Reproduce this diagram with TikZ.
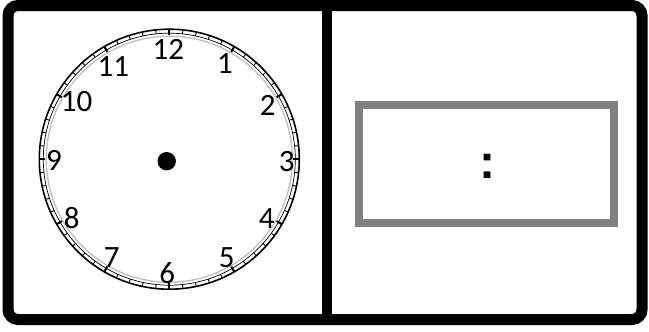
\documentclass[tikz,border=0pt]{standalone}
\usepackage{fontspec}
\usetikzlibrary{calc}
\setmainfont{Carlito}
\newfontfamily\colonfont{Liberation Sans}
\begin{document}
\begin{tikzpicture}[x=1pt,y=-1pt,
  num/.style={inner sep=0pt,font=\fontsize{31}{31}\selectfont},
  frameline/.style={line width=11pt,rounded corners=10pt},
]
\useasboundingbox (0,0) rectangle (649,332);
\fill[white] (0,0) rectangle (649,332);
% outer frame and divider
\draw[frameline] (8,5.5) rectangle (642,319.5);
\draw[line width=10pt] (327,5.5) -- (327,319.5);
% digital display box
\draw[line width=8pt,draw=black!50] (359,105) rectangle (614,223);
\node[inner sep=0pt,font=\colonfont\bfseries\fontsize{48}{48}\selectfont] (colon) at (487,166) {:};
% clock face
\coordinate (cc) at (169.3,159.2);
\draw[black!25,line width=1.3pt] (cc) circle[radius=123];
\draw[line width=0.7pt] (cc) circle[radius=126];
\draw[line width=1.6pt] (cc) circle[radius=130];
\foreach \i in {0,...,59}{
  \draw[line width=0.9pt] ($(cc)+(\i*6:126)$) -- ($(cc)+(\i*6:130)$);
}
\foreach \i in {0,...,11}{
  \draw[line width=2pt] ($(cc)+(\i*30:124)$) -- ($(cc)+(\i*30:130)$);
}
\fill (166.7,161.2) circle[radius=9.2] node (hub) {};
% numbers
\node[num] (n12) at (168.3,49.3) {12};
\node[num] (n1) at (225,63.3) {1};
\node[num] (n2) at (267.7,105) {2};
\node[num] (n3) at (286.7,161.7) {3};
\node[num] (n4) at (266.7,218.3) {4};
\node[num] (n5) at (226.7,257.3) {5};
\node[num] (n6) at (167.3,273.3) {6};
\node[num] (n7) at (111.7,257.3) {7};
\node[num] (n8) at (71.7,218.3) {8};
\node[num] (n9) at (54,160) {9};
\node[num] (n10) at (76.7,101.7) {10};
\node[num] (n11) at (113.3,66.7) {11};
\end{tikzpicture}
\end{document}
